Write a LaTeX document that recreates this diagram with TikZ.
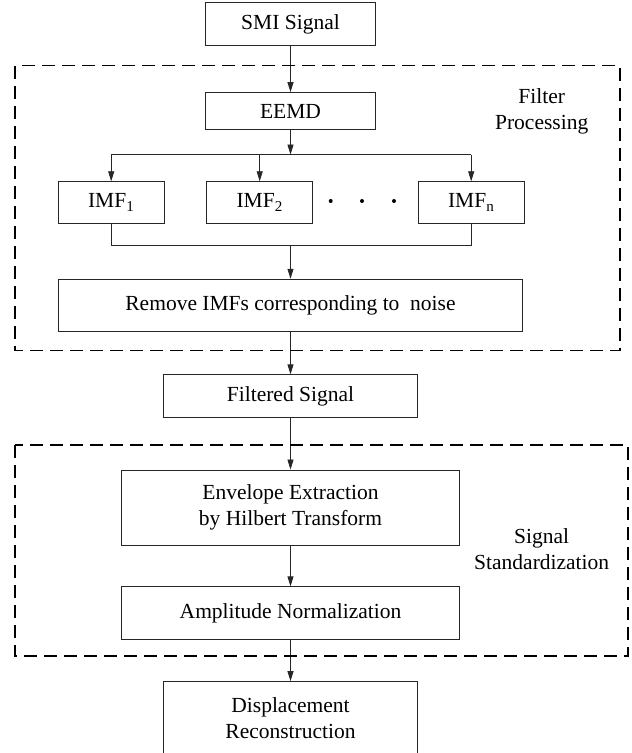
\documentclass[tikz,border=0pt]{standalone}
\usepackage{fontspec}
\setmainfont{Liberation Serif}
\usepackage{tikz}
\usetikzlibrary{positioning,arrows.meta}

\begin{document}
\begin{tikzpicture}[x=1pt, y=1pt, font=\fontsize{21.5}{26}\selectfont,
    block/.style={draw=black!85, line width=0.8pt, inner sep=0pt, align=center},
    wide/.style={minimum width=169.6pt},
    imf/.style={minimum width=105.7pt, minimum height=41.6pt},
    frame/.style={draw, line width=1.4pt, dash pattern=on 13pt off 7pt},
    arr/.style={-{Triangle[length=10pt, width=6pt]}, line width=0.8pt, draw=black!85}]
    \useasboundingbox (0,0) rectangle (632,-753);

    \node[block, wide, minimum height=42.3pt] (smi) at (290.5,-23.9) {SMI Signal};
    \node[block, wide, minimum height=37.3pt, below=46.7pt of smi] (eemd) {EEMD};
    \node[block, minimum width=464.4pt, minimum height=52.5pt, below=148.5pt of eemd] (remove) {Remove IMFs corresponding to~~noise};
    \node[block, minimum width=254.4pt, minimum height=42.7pt, below=42.3pt of remove] (filtered) {Filtered Signal};
    \node[block, minimum width=338.3pt, minimum height=75.6pt, below=51.7pt of filtered] (envelope) {Envelope Extraction\\by Hilbert Transform};
    \node[block, minimum width=338.3pt, minimum height=52.3pt, below=40.4pt of envelope] (amplitude) {Amplitude Normalization};
    \node[block, minimum width=254.4pt, minimum height=74pt, below=41.7pt of amplitude] (displacement) {Displacement\\Reconstruction};

    \node[block, imf] (imf1) at (111.2,-202.5) {IMF\textsubscript{1}};
    \node[block, imf, right=42pt of imf1] (imf2) {IMF\textsubscript{2}};
    \node[block, imf, right=105pt of imf2] (imfn) {IMF\textsubscript{n}};
    \foreach \x in {330.7,362,394}
        \fill (\x,-201) circle (2pt);

    \coordinate[below=24.3pt of eemd] (split);
    \coordinate[above=33pt of remove] (merge);

    \draw[arr] (smi) -- (eemd);
    \draw[arr] (eemd) -- (split);
    \draw[line width=0.8pt, draw=black!85] (imf1 |- split) -- (imfn |- split);
    \foreach \i in {1,2,n}
        \draw[arr] (imf\i |- split) -- (imf\i);
    \draw[line width=0.8pt, draw=black!85] (imf1.south) -- (imf1.south |- merge) -- (imfn.south |- merge) -- (imfn.south);
    \draw[arr] (merge) -- (remove);
    \draw[arr] (remove) -- (filtered);
    \draw[arr] (filtered) -- (envelope);
    \draw[arr] (envelope) -- (amplitude);
    \draw[arr] (amplitude) -- (displacement);

    % dashed groups
    \draw[frame] (15,-65.7) rectangle (620,-350.7);
    \draw[frame] (15,-445) rectangle (628,-656);
    \node[align=center] (filterlabel) at (541.7,-111) {Filter\\Processing};
    \node[align=center] (stdlabel) at (541.7,-548.7) {Signal\\Standardization};
\end{tikzpicture}
\end{document}
